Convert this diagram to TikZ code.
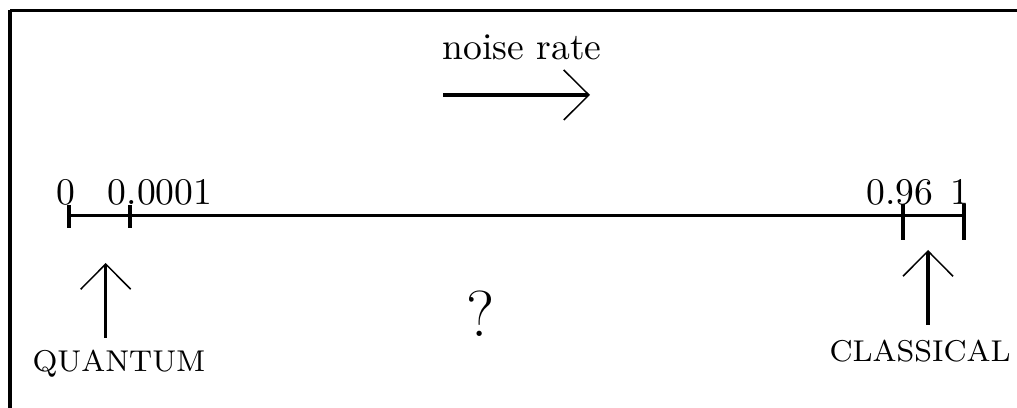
\documentclass[tikz,border=0pt]{standalone}
\usepackage{amsmath,amssymb}
\usetikzlibrary{arrows.meta}

\begin{document}
\begin{tikzpicture}[x=2.66pt, y=2.66pt,
  tickline/.style={line width=0.9pt},
  pointer/.style={line width=0.85pt, -{Straight Barb[length=6.7pt, width=13.3pt, line width=0.4pt]}}]

\useasboundingbox (0,0) rectangle (101.7,40.8);

% Frame (top and left side only)
\coordinate (frameTL) at (1.0,39.75);
\draw[line width=0.8pt] (frameTL) -- (101.7,39.75);
\draw[line width=0.8pt] (frameTL) -- (1.0,0);

% Axis
\coordinate (zero) at (6.9,19.2);
\coordinate (small) at (13.0,19.2);
\coordinate (big) at (90.3,19.2);
\coordinate (one) at (96.4,19.2);
\draw[line width=0.8pt] (zero) -- (one);

% Ticks
\foreach \p in {zero, small}
  \draw[tickline] ([yshift=1.1*2.66pt]\p) -- ([yshift=-1.2*2.66pt]\p);
\foreach \p in {big, one}
  \draw[tickline] ([yshift=1.2*2.66pt]\p) -- ([yshift=-2.4*2.66pt]\p);

% Tick labels
\node[anchor=base] (lzero) at (6.6,20.3) {0};
\node[anchor=base west, inner sep=0pt] (lsmall) at (10.7,20.3) {0.0001};
\node[anchor=base] (lbig) at (90.0,20.3) {0.96};
\node[anchor=base] (lone) at (96.0,20.3) {1};

% Noise rate direction
\node[anchor=base] (noise) at (52.2,34.8) {noise rate};
\coordinate (nstart) at (44.3,31.3);
\coordinate (nend) at (59.0,31.3);
\draw[pointer] (nstart) -- (nend);

% Regimes
\node[anchor=base, font=\footnotesize] (quantum) at (11.9,3.6) {QUANTUM};
\node[anchor=base, font=\footnotesize] (classical) at (92.0,4.6) {CLASSICAL};
\coordinate (qtop) at (10.57,14.5);
\coordinate (ctop) at (92.8,15.8);
\draw[pointer] (10.57,7.0) -- (qtop);
\draw[pointer] (92.8,8.3) -- (ctop);

\node[anchor=base, font=\LARGE] (unknown) at (48.1,7.1) {?};

\end{tikzpicture}
\end{document}
